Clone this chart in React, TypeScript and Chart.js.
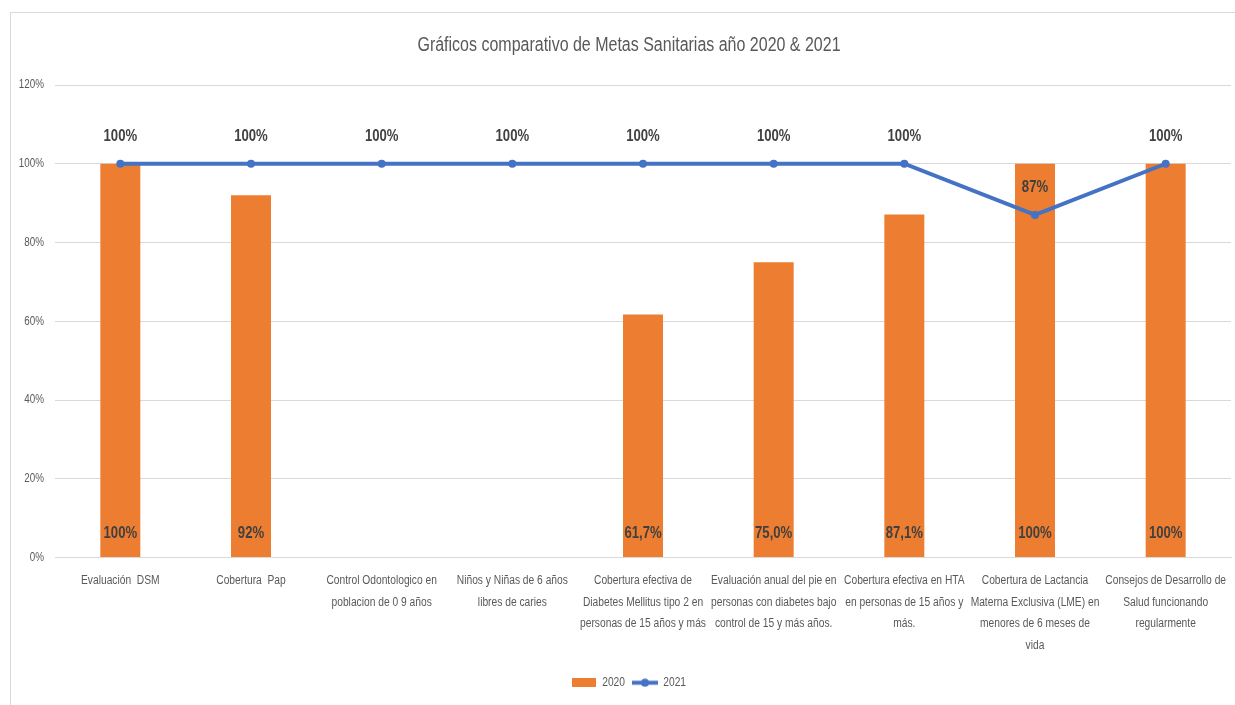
import React, { useEffect, useRef } from "react";
import { Chart, registerables } from "chart.js";

Chart.register(...registerables);

const TITLE = "Gráficos comparativo de Metas Sanitarias año 2020 & 2021";

const categories: string[][] = [
  ["Evaluación  DSM"],
  ["Cobertura  Pap"],
  ["Control Odontologico en", "poblacion de 0 9 años"],
  ["Niños y Niñas de 6 años", "libres de caries"],
  ["Cobertura efectiva de", "Diabetes Mellitus tipo 2 en", "personas de 15 años y más"],
  ["Evaluación anual del pie en", "personas con diabetes bajo", "control de 15 y más años."],
  ["Cobertura efectiva en HTA", "en personas de 15 años y", "más."],
  ["Cobertura de Lactancia", "Materna Exclusiva (LME) en", "menores de 6 meses de", "vida"],
  ["Consejos de Desarrollo de", "Salud funcionando", "regularmente"],
];

const values2020: (number | null)[] = [100, 92, null, null, 61.7, 75.0, 87.1, 100, 100];
const labels2020: (string | null)[] = ["100%", "92%", null, null, "61,7%", "75,0%", "87,1%", "100%", "100%"];

const values2021: number[] = [100, 100, 100, 100, 100, 100, 100, 87, 100];
const labels2021: string[] = ["100%", "100%", "100%", "100%", "100%", "100%", "100%", "87%", "100%"];

const yTicks = { min: 0, max: 120, step: 20 };

const FONT = "'Liberation Sans', Arial, sans-serif";
const SX = 0.82; // horizontal condensing, to mimic a narrow face
const ORANGE = "#ED7D31";
const BLUE = "#4472C4";
const GRID = "#d9d9d9";
const TEXT = "#595959";
const LABEL = "#404040";

function condense(ctx: CanvasRenderingContext2D) {
  const origFill = ctx.fillText.bind(ctx);
  const origMeasure = ctx.measureText.bind(ctx);
  (ctx as any).fillText = (text: string, x: number, y: number, maxWidth?: number) => {
    ctx.save();
    ctx.translate(x, y);
    ctx.scale(SX, 1);
    if (maxWidth !== undefined && maxWidth !== null) origFill(text, 0, 0, maxWidth / SX);
    else origFill(text, 0, 0);
    ctx.restore();
  };
  (ctx as any).measureText = (text: string) => {
    const m = origMeasure(text);
    return {
      width: m.width * SX,
      actualBoundingBoxAscent: m.actualBoundingBoxAscent,
      actualBoundingBoxDescent: m.actualBoundingBoxDescent,
      actualBoundingBoxLeft: m.actualBoundingBoxLeft * SX,
      actualBoundingBoxRight: m.actualBoundingBoxRight * SX,
      fontBoundingBoxAscent: (m as any).fontBoundingBoxAscent,
      fontBoundingBoxDescent: (m as any).fontBoundingBoxDescent,
    };
  };
}

export default function App() {
  const ref = useRef<HTMLCanvasElement | null>(null);

  useEffect(() => {
    if (!ref.current) return;
    const ctx0 = ref.current.getContext("2d")!;
    condense(ctx0);

    const barImg = document.createElement("canvas");
    barImg.width = 24;
    barImg.height = 9;
    {
      const c = barImg.getContext("2d")!;
      c.fillStyle = ORANGE;
      c.fillRect(0, 0, 24, 9);
    }
    const lineImg = document.createElement("canvas");
    lineImg.width = 26;
    lineImg.height = 9;
    {
      const c = lineImg.getContext("2d")!;
      c.strokeStyle = BLUE;
      c.lineWidth = 4;
      c.beginPath();
      c.moveTo(0, 4.5);
      c.lineTo(26, 4.5);
      c.stroke();
      c.fillStyle = BLUE;
      c.beginPath();
      c.arc(13, 4.5, 4, 0, Math.PI * 2);
      c.fill();
    }

    const framePlugin = {
      id: "frame",
      afterLayout(chart: any) {
        // the original chart's frame extends past the right edge: shift centred blocks
        if (chart.titleBlock) chart.titleBlock.left += 16;
        if (chart.legend) chart.legend.left += 16;
      },
      beforeDraw(chart: any) {
        const ctx = chart.ctx;
        ctx.save();
        ctx.fillStyle = "#ffffff";
        ctx.fillRect(0, 0, chart.width, chart.height);
        ctx.strokeStyle = GRID;
        ctx.lineWidth = 1;
        ctx.strokeRect(10.5, 12.5, chart.width + 50, chart.height + 50);
        ctx.restore();
      },
    };

    const valueLabels = {
      id: "valueLabels",
      afterDatasetsDraw(chart: any) {
        const ctx = chart.ctx;
        ctx.save();
        ctx.font = `bold 16px ${FONT}`;
        ctx.fillStyle = LABEL;
        ctx.textAlign = "center";
        ctx.textBaseline = "middle";
        const barMeta = chart.getDatasetMeta(0);
        barMeta.data.forEach((el: any, i: number) => {
          const t = labels2020[i];
          if (values2020[i] == null || !t) return;
          ctx.fillText(t, el.x, el.base - 23);
        });
        const lineMeta = chart.getDatasetMeta(1);
        lineMeta.data.forEach((el: any, i: number) => {
          ctx.fillText(labels2021[i], el.x, el.y - 27);
        });
        ctx.restore();
      },
    };

    const chart = new Chart(ref.current, {
      type: "bar",
      data: {
        labels: categories,
        datasets: [
          {
            type: "bar",
            label: "2020",
            data: values2020,
            backgroundColor: ORANGE,
            borderWidth: 0,
            categoryPercentage: 1,
            barPercentage: 0.306,
            order: 1,
          } as any,
          {
            type: "line",
            label: "2021",
            data: values2021,
            borderColor: BLUE,
            backgroundColor: BLUE,
            borderWidth: 4,
            pointRadius: 4,
            pointBackgroundColor: BLUE,
            pointBorderColor: BLUE,
            pointBorderWidth: 0,
            tension: 0,
            order: 0,
          } as any,
        ],
      },
      options: {
        animation: false,
        responsive: false,
        maintainAspectRatio: false,
        layout: { padding: { left: 10, right: 3, top: 12, bottom: 6 } },
        plugins: {
          tooltip: { enabled: false },
          title: {
            display: true,
            text: TITLE,
            color: TEXT,
            font: { family: FONT, size: 19.5, weight: "normal" as any, lineHeight: 1.2 },
            padding: { top: 22, bottom: 27.6 },
          },
          legend: {
            position: "bottom",
            labels: {
              color: TEXT,
              font: { family: FONT, size: 12.5 },
              usePointStyle: true,
              pointStyleWidth: 24,
              boxHeight: 9,
              padding: 8,
              sort: (a: any, b: any) => a.datasetIndex - b.datasetIndex,
              generateLabels: (c: any) => {
                const items = (Chart.defaults.plugins.legend.labels as any).generateLabels(c);
                items.forEach((it: any) => {
                  it.pointStyle = it.datasetIndex === 0 ? barImg : lineImg;
                });
                return items;
              },
            },
          },
        },
        scales: {
          x: {
            grid: { display: false, drawTicks: false },
            border: { display: true, color: GRID, width: 1 },
            ticks: {
              color: TEXT,
              font: { family: FONT, size: 12.5, lineHeight: 1.736 },
              padding: 12,
              maxRotation: 0,
              autoSkip: false,
            },
            afterFit: (s: any) => {
              s.height = 111;
              s.paddingLeft = 0;
              s.paddingRight = 0;
            },
          },
          y: {
            min: yTicks.min,
            max: yTicks.max,
            grid: { color: GRID, lineWidth: 1, drawTicks: false },
            border: { display: false },
            ticks: {
              stepSize: yTicks.step,
              color: TEXT,
              font: { family: FONT, size: 12 },
              padding: 11,
              callback: (v: any) => `${v}%`,
            },
            afterFit: (s: any) => {
              s.width = 45;
            },
          },
        },
      },
      plugins: [framePlugin, valueLabels],
    } as any);

    return () => chart.destroy();
  }, []);

  return (
    <div style={{ position: "fixed", left: 0, top: 0, width: 1235, height: 705, background: "#fff" }}>
      <canvas ref={ref} width={1235} height={705} style={{ display: "block", width: 1235, height: 705 }} />
    </div>
  );
}
